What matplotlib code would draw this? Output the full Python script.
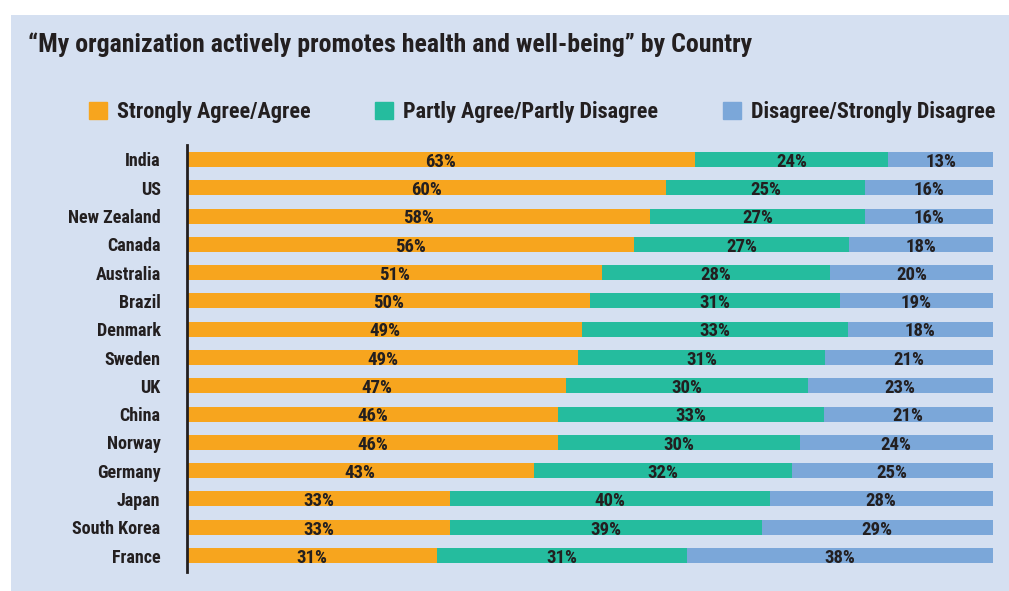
import matplotlib.pyplot as plt
from matplotlib.patches import Patch, Rectangle
import numpy as np

countries = ["India", "US", "New Zealand", "Canada", "Australia", "Brazil", "Denmark",
             "Sweden", "UK", "China", "Norway", "Germany", "Japan", "South Korea", "France"]
agree = [63, 60, 58, 56, 51, 50, 49, 49, 47, 46, 46, 43, 33, 33, 31]
partly = [24, 25, 27, 27, 28, 31, 33, 31, 30, 33, 30, 32, 40, 39, 31]
disagree = [13, 16, 16, 18, 20, 19, 18, 21, 23, 21, 24, 25, 28, 29, 38]
series_names = ["Strongly Agree/Agree", "Partly Agree/Partly Disagree", "Disagree/Strongly Disagree"]
colors = ["#F7A51E", "#25BC9E", "#7BA7D9"]

bg = "#D5E0F1"
txt = "#231F20"
font = ["Roboto Condensed", "DejaVu Sans"]

fig = plt.figure(figsize=(10.09, 5.91), dpi=100)
fig.patch.set_facecolor("white")
fig.patches.append(Rectangle((11 / 1009, 0), 1 - 11 / 1009, 1 - 15 / 591,
                             transform=fig.transFigure, facecolor=bg, edgecolor="none", zorder=-5))

ax = fig.add_axes([187 / 1009, 1 - 572 / 591, 806 / 1009, 427 / 591])
ax.patch.set_alpha(0)

# bar lengths are shares of each row total (the printed percentages are rounded)
data = np.array([agree, partly, disagree], dtype=float)
totals = data.sum(axis=0)
shares = data / totals * 100
y = np.arange(len(countries))
left = np.zeros(len(countries))
for i in range(3):
    ax.barh(y, shares[i], left=left, height=0.53, color=colors[i], edgecolor="none")
    for j in range(len(countries)):
        ax.text(left[j] + shares[i][j] / 2, y[j] + 0.08, f"{int(data[i][j])}%",
                ha="center", va="center", fontsize=13.5, fontweight="bold",
                color=txt, family=font)
    left += shares[i]

ax.set_xlim(0, 100)
ax.set_ylim(len(countries) - 1 + 0.58, -0.51)
ax.set_yticks(y)
ax.set_yticklabels(countries, fontsize=13, fontweight="bold", color=txt, family=font)
ax.tick_params(axis="y", length=0, pad=19)
ax.set_xticks([])
for s in ["top", "right", "bottom"]:
    ax.spines[s].set_visible(False)
ax.spines["left"].set_color(txt)
ax.spines["left"].set_linewidth(2)

fig.text(28 / 1009, 1 - 45 / 591, "\u201cMy organization actively promotes health and well-being\u201d by Country",
         fontsize=18.6, fontweight="bold", color=txt, family=font, va="center", ha="left")

handles = [Patch(color=c, label=n) for c, n in zip(colors, series_names)]
fig.legend(handles=handles, loc="center left", bbox_to_anchor=(69 / 1009, 1 - 112 / 591),
           ncol=3, frameon=False, handlelength=0.81, handleheight=0.81, handletextpad=0.45,
           columnspacing=2.9, prop={"family": font, "weight": "bold", "size": 16},
           labelcolor=txt)

plt.savefig("out.png", dpi=100)
